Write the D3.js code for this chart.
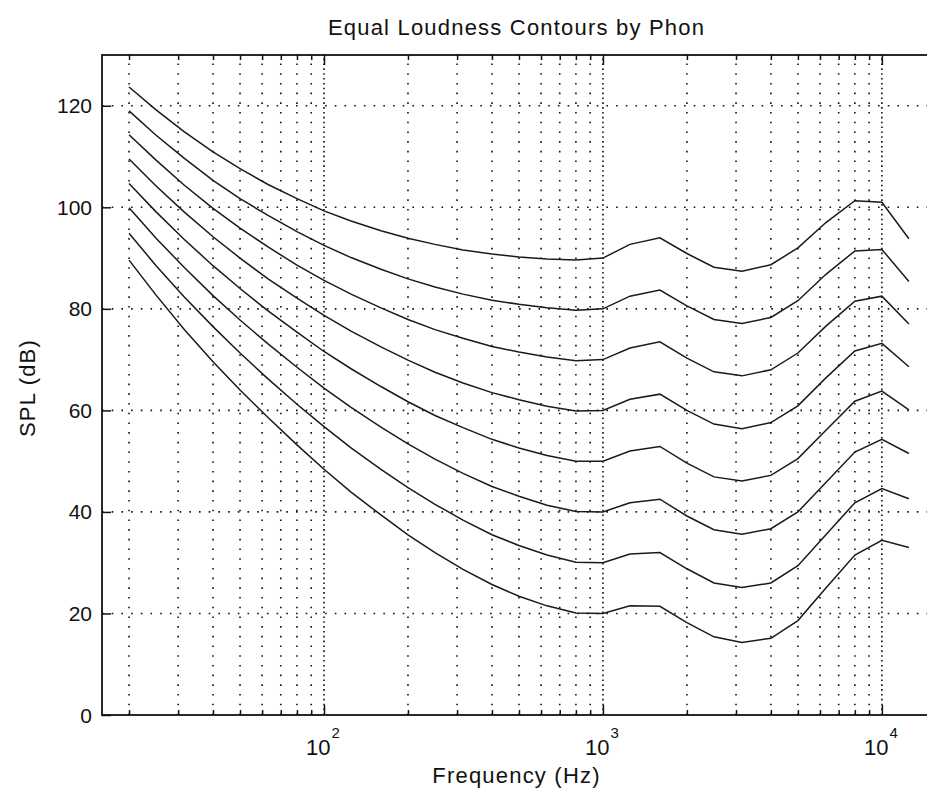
<!DOCTYPE html>
<html>
<head>
<meta charset="utf-8">
<script src="https://cdn.jsdelivr.net/npm/d3@7"></script>
<style>
  html, body { margin: 0; background: #fff; overflow: hidden; }
  svg { display: block; overflow: hidden; }
  text { font-family: "Liberation Sans", Arial, sans-serif; fill: #111; }
</style>
</head>
<body>
<div id="chart"></div>
<script>
// ISO 226 style contours, one array per phon level (SPL in dB at each frequency)
const freqs = [20, 25, 31.5, 40, 50, 63, 80, 100, 125, 160, 200, 250, 315, 400, 500, 630, 800,
               1000, 1250, 1600, 2000, 2500, 3150, 4000, 5000, 6300, 8000, 10000, 12500]
const phons = [20, 30, 40, 50, 60, 70, 80, 90]

const spl20 = [89.6, 82.7, 76.0, 69.6, 64.0, 58.6, 53.2, 48.4, 43.9, 39.4, 35.5, 32.0, 28.7, 25.7, 23.4, 21.5, 20.1, 20.0, 21.5, 21.4, 18.2, 15.4, 14.3, 15.1, 18.6, 25.0, 31.5, 34.4, 33.0]
const spl30 = [94.9, 88.5, 82.4, 76.5, 71.3, 66.2, 61.2, 56.8, 52.6, 48.4, 44.8, 41.5, 38.4, 35.5, 33.4, 31.5, 30.1, 30.0, 31.7, 32.0, 28.8, 26.0, 25.1, 26.0, 29.4, 35.5, 41.8, 44.6, 42.6]
const spl40 = [99.9, 93.9, 88.2, 82.6, 77.8, 73.1, 68.5, 64.4, 60.6, 56.7, 53.4, 50.4, 47.6, 45.0, 43.1, 41.3, 40.1, 40.0, 41.8, 42.5, 39.2, 36.5, 35.6, 36.7, 40.0, 45.8, 51.8, 54.3, 51.5]
const spl50 = [104.7, 99.1, 93.7, 88.5, 84.0, 79.6, 75.4, 71.6, 68.2, 64.7, 61.7, 59.0, 56.6, 54.3, 52.6, 51.1, 50.0, 50.0, 52.0, 52.9, 49.6, 46.9, 46.1, 47.2, 50.5, 56.1, 61.8, 63.8, 60.1]
const spl60 = [109.5, 104.2, 99.1, 94.2, 90.0, 85.9, 82.1, 78.7, 75.6, 72.5, 69.9, 67.5, 65.4, 63.5, 62.1, 60.8, 59.9, 60.0, 62.2, 63.2, 60.0, 57.3, 56.4, 57.6, 60.9, 66.4, 71.7, 73.2, 68.6]
const spl70 = [114.3, 109.3, 104.4, 99.8, 95.9, 92.2, 88.6, 85.6, 82.9, 80.2, 77.9, 75.9, 74.2, 72.6, 71.5, 70.5, 69.8, 70.0, 72.3, 73.5, 70.3, 67.6, 66.8, 68.0, 71.3, 76.6, 81.5, 82.5, 77.0]
const spl80 = [119.0, 114.2, 109.7, 105.3, 101.7, 98.4, 95.2, 92.5, 90.1, 87.8, 85.9, 84.3, 82.9, 81.7, 80.9, 80.2, 79.7, 80.0, 82.5, 83.7, 80.6, 77.9, 77.1, 78.3, 81.6, 86.8, 91.4, 91.7, 85.4]
const spl90 = [123.7, 119.2, 114.9, 110.9, 107.6, 104.5, 101.7, 99.3, 97.3, 95.4, 93.9, 92.7, 91.6, 90.8, 90.2, 89.8, 89.6, 90.0, 92.7, 94.0, 90.9, 88.2, 87.4, 88.7, 92.0, 97.0, 101.3, 101.0, 93.8]

const yTicks = [0, 20, 40, 60, 80, 100, 120]
const xDecades = [100, 1000, 10000]
const xDomain = [16, 15000]
const yDomain = [0, 130]

const width = 927
const height = 792
const margin = {top: 55, left: 102, right: 931, bottom: 715} // plot box edges (right edge runs off the page)

const svg = d3.select("#chart").append("svg")
  .attr("width", width)
  .attr("height", height)

const x = d3.scaleLog().domain(xDomain).range([margin.left, margin.right])
const y = d3.scaleLinear().domain(yDomain).range([margin.bottom, margin.top])

const minorTicks = x.ticks().filter(d => xDecades.indexOf(d) < 0)

// dotted grid, matlab style
const dots = "1.6 8.1"
const grid = svg.append("g").attr("stroke", "#111").attr("stroke-width", 1.6).attr("stroke-dasharray", dots)

grid.selectAll(".vgrid")
  .data(x.ticks())
  .enter().append("line")
  .attr("x1", d => x(d)).attr("x2", d => x(d))
  .attr("y1", margin.bottom).attr("y2", margin.top)

// decade lines get a second set of dots, looks denser
grid.selectAll(".vmajor")
  .data(xDecades)
  .enter().append("line")
  .attr("stroke-dashoffset", 4.8)
  .attr("x1", d => x(d)).attr("x2", d => x(d))
  .attr("y1", margin.bottom).attr("y2", margin.top)

grid.selectAll(".hgrid")
  .data(yTicks.slice(1))
  .enter().append("line")
  .attr("x1", margin.left).attr("x2", margin.right)
  .attr("y1", d => y(d)).attr("y2", d => y(d))

// contours
const series = phons.map((p, i) => ({phon: p, values: [spl20, spl30, spl40, spl50, spl60, spl70, spl80, spl90][i]}))

const line = d3.line()
  .x((d, i) => x(freqs[i]))
  .y(d => y(d))

svg.append("g")
  .selectAll("path")
  .data(series)
  .enter().append("path")
  .attr("fill", "none")
  .attr("stroke", "#1a1a1a")
  .attr("stroke-width", 1.5)
  .attr("d", d => line(d.values))

// axes: ticks point inward, labels drawn separately
const axisStyle = g => {
  g.select(".domain").remove()
  g.selectAll("line").attr("stroke", "#111").attr("stroke-width", 1.5)
  g.selectAll("text").remove()
}

svg.append("g").attr("transform", `translate(0,${margin.bottom})`)
  .call(d3.axisBottom(x).tickValues(xDecades).tickSize(-10)).call(axisStyle)
svg.append("g").attr("transform", `translate(0,${margin.bottom})`)
  .call(d3.axisBottom(x).tickValues(minorTicks).tickSize(-5)).call(axisStyle)
svg.append("g").attr("transform", `translate(0,${margin.top})`)
  .call(d3.axisTop(x).tickValues(xDecades).tickSize(-10)).call(axisStyle)
svg.append("g").attr("transform", `translate(0,${margin.top})`)
  .call(d3.axisTop(x).tickValues(minorTicks).tickSize(-5)).call(axisStyle)
svg.append("g").attr("transform", `translate(${margin.left},0)`)
  .call(d3.axisLeft(y).tickValues(yTicks).tickSize(-9)).call(axisStyle)

// box
svg.append("rect")
  .attr("x", margin.left).attr("y", margin.top)
  .attr("width", margin.right - margin.left).attr("height", margin.bottom - margin.top)
  .attr("fill", "none").attr("stroke", "#111").attr("stroke-width", 1.8)

// y tick labels
svg.append("g").selectAll("text")
  .data(yTicks)
  .enter().append("text")
  .attr("x", margin.left - 10)
  .attr("y", d => y(d) + 7.5)
  .attr("text-anchor", "end")
  .style("font-size", "21px")
  .text(d => d)

// x tick labels 10^n
const xl = svg.append("g").selectAll("text")
  .data(xDecades)
  .enter().append("text")
  .attr("x", d => x(d) - 1)
  .attr("y", 755)
  .attr("text-anchor", "middle")
  .style("font-size", "22px")
xl.append("tspan").text("10")
xl.append("tspan")
  .attr("dx", 1).attr("dy", -17)
  .style("font-size", "15px")
  .text(d => Math.round(Math.log10(d)))

svg.append("text")
  .attr("x", (margin.left + margin.right) / 2)
  .attr("y", 35)
  .attr("text-anchor", "middle")
  .style("font-size", "22px")
  .style("letter-spacing", "1.2px")
  .text("Equal Loudness Contours by Phon")

svg.append("text")
  .attr("x", (margin.left + margin.right) / 2)
  .attr("y", 783)
  .attr("text-anchor", "middle")
  .style("font-size", "22px")
  .style("letter-spacing", "1.2px")
  .text("Frequency (Hz)")

svg.append("text")
  .attr("transform", "translate(35,388) rotate(-90)")
  .attr("text-anchor", "middle")
  .style("font-size", "22px")
  .style("letter-spacing", "1.2px")
  .text("SPL (dB)")
</script>
</body>
</html>
